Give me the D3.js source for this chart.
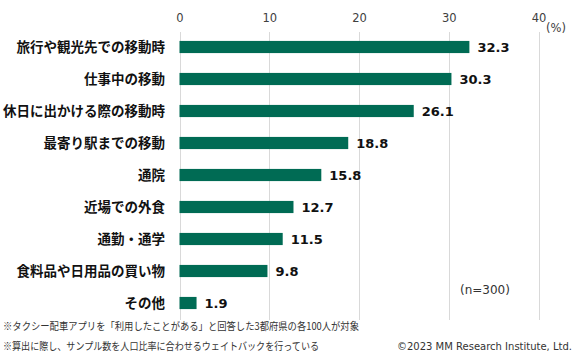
<!DOCTYPE html>
<html><head><meta charset="utf-8">
<script src="https://cdn.jsdelivr.net/npm/d3@7"></script>
<style>body{margin:0;background:#fff;}svg{display:block;}</style>
</head><body><svg id="c" width="577" height="358"></svg>
<script>
const categories = ["旅行や観光先での移動時","仕事中の移動","休日に出かける際の移動時","最寄り駅までの移動","通院","近場での外食","通勤・通学","食料品や日用品の買い物","その他"];
const values = [32.3,30.3,26.1,18.8,15.8,12.7,11.5,9.8,1.9];
const tickValues = [0,10,20,30,40];
const unitLabel = "(%)";
const sampleLabel = "(n=300)";
const notes = ["※タクシー配車アプリを「利用したことがある」と回答した3都府県の各100人が対象","※算出に際し、サンプル数を人口比率に合わせるウェイトバックを行っている"];
const noteWidths = [356, 316];
const copyright = "©2023 MM Research Institute, Ltd.";

const svg = d3.select("#c");
const x = d3.scaleLinear().domain([0,40]).range([179.5,538.5]);
const y = d3.scaleBand().domain(categories).range([31,319]).paddingInner(0.62).paddingOuter(0.31);
const jp = "'Noto Sans CJK JP','Noto Sans',sans-serif";
const lat = "'DejaVu Sans',Verdana,sans-serif";

// gridlines
svg.append("g").selectAll("line").data(tickValues).join("line")
  .attr("x1",d=>Math.round(x(d))+0.5).attr("x2",d=>Math.round(x(d))+0.5)
  .attr("y1",32).attr("y2",320).attr("stroke","#d9d9d9").attr("stroke-width",1);

// top axis labels
const ax = svg.append("g").attr("transform","translate(0,22)")
  .call(d3.axisTop(x).tickValues(tickValues).tickSize(0).tickPadding(0));
ax.select(".domain").remove();
ax.selectAll("text").attr("font-family",lat).attr("font-size",11.5).attr("fill","#404040");
svg.append("text").attr("x",546).attr("y",32).text(unitLabel)
  .attr("font-family",lat).attr("font-size",11.5).attr("fill","#404040");

// bars
svg.append("g").selectAll("rect").data(values).join("rect")
  .attr("x",x(0)).attr("y",(d,i)=>y(categories[i]))
  .attr("width",d=>x(d)-x(0)).attr("height",y.bandwidth())
  .attr("fill","#006b54");

// values
svg.append("g").selectAll("text").data(values).join("text")
  .attr("x",d=>x(d)+8).attr("y",(d,i)=>y(categories[i])+y.bandwidth()/2)
  .attr("dy","0.36em").text(d=>d.toFixed(1))
  .attr("font-family",lat).attr("font-weight","bold").attr("font-size",13).attr("fill","#111");

// category labels
svg.append("g").selectAll("text").data(categories).join("text")
  .attr("x",165).attr("y",d=>y(d)+y.bandwidth()/2).attr("dy","0.36em")
  .attr("text-anchor","end").text(d=>d)
  .attr("font-family",jp).attr("font-weight","bold").attr("font-size",13.5).attr("fill","#111");

svg.append("text").attr("x",460).attr("y",294).text(sampleLabel)
  .attr("font-family",lat).attr("font-size",12).attr("fill","#333");

svg.append("g").selectAll("text").data(notes).join("text")
  .attr("x",3).attr("y",(d,i)=>330+i*20).text(d=>d)
  .attr("textLength",(d,i)=>noteWidths[i]).attr("lengthAdjust","spacingAndGlyphs")
  .attr("font-family",jp).attr("font-size",10.5).attr("fill","#333");

svg.append("text").attr("x",572).attr("y",350).attr("text-anchor","end").text(copyright)
  .attr("font-family",lat).attr("font-size",10).attr("fill","#333");
</script></body></html>
